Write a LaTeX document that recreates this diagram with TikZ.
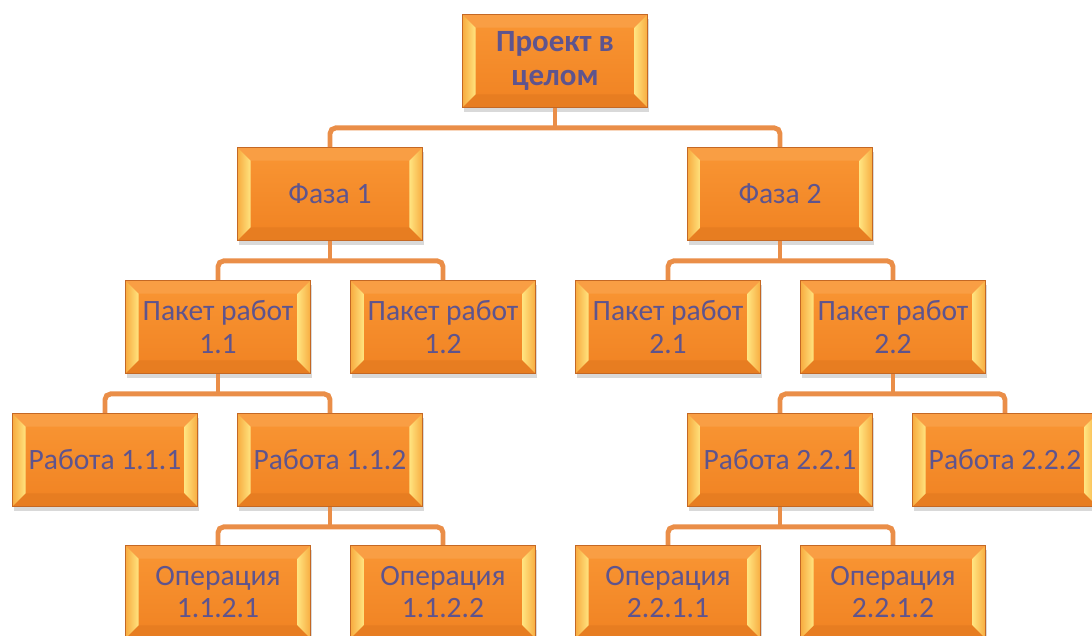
\documentclass[tikz,border=0pt]{standalone}
\usepackage{fontspec}
\setmainfont{Carlito}
\usetikzlibrary{calc,shadows}

\definecolor{boxfill}{RGB}{246,140,40}
\definecolor{boxtop}{RGB}{249,150,52}
\definecolor{boxbot}{RGB}{240,130,34}
\definecolor{boxedge}{RGB}{196,104,36}
\definecolor{bevlight}{RGB}{255,228,128}
\definecolor{bevmid}{RGB}{248,172,64}
\definecolor{linkcol}{RGB}{234,142,72}
\definecolor{txtcol}{RGB}{94,84,142}

\tikzset{
  wbs/.style={draw=boxedge, line width=0.6pt, top color=boxtop, bottom color=boxbot,
    minimum width=4.625cm, minimum height=2.325cm, inner sep=0pt,
    text=txtcol, align=center, font=\fontsize{21}{23}\selectfont,
    drop shadow={opacity=0.3, shadow xshift=1pt, shadow yshift=-3pt},
    path picture={
      \coordinate (bnw) at (path picture bounding box.north west);
      \coordinate (bne) at (path picture bounding box.north east);
      \coordinate (bsw) at (path picture bounding box.south west);
      \coordinate (bse) at (path picture bounding box.south east);
      % bevel edges
      \fill[boxtop!92!white] (bnw) -- ($(bnw)+(0.33cm,-0.33cm)$) -- ($(bne)+(-0.33cm,-0.33cm)$) -- (bne) -- cycle;
      \fill[boxbot!96!black] (bsw) -- ($(bsw)+(0.33cm,0.33cm)$) -- ($(bse)+(-0.33cm,0.33cm)$) -- (bse) -- cycle;
      \shade[left color=bevmid, right color=bevlight] (bnw) -- ($(bnw)+(0.33cm,-0.33cm)$) -- ($(bsw)+(0.33cm,0.33cm)$) -- (bsw) -- cycle;
      \shade[left color=bevlight, right color=bevmid] (bne) -- ($(bne)+(-0.33cm,-0.33cm)$) -- ($(bse)+(-0.33cm,0.33cm)$) -- (bse) -- cycle;
    }},
  link/.style={draw=linkcol, line width=3.5pt, rounded corners=4pt}
}

\begin{document}
\begin{tikzpicture}[x=0.025cm, y=-0.025cm]
    \useasboundingbox (0,0) rectangle (1092,636);

    \node[wbs, font=\fontsize{22}{24}\selectfont\bfseries] (top) at (555,61) {Проект в\\целом};

    \node[wbs] (f1) at (330,194) {Фаза 1};
    \node[wbs] (f2) at (780,194) {Фаза 2};

    \node[wbs] (p11) at (218,327) {Пакет работ\\1.1};
    \node[wbs] (p12) at (443,327) {Пакет работ\\1.2};
    \node[wbs] (p21) at (668,327) {Пакет работ\\2.1};
    \node[wbs] (p22) at (893,327) {Пакет работ\\2.2};

    \node[wbs] (r111) at (105,460) {Работа 1.1.1};
    \node[wbs] (r112) at (330,460) {Работа 1.1.2};
    \node[wbs] (r221) at (780,460) {Работа 2.2.1};
    \node[wbs] (r222) at (1005,460) {Работа 2.2.2};

    \node[wbs] (o1121) at (218,592) {Операция\\1.1.2.1};
    \node[wbs] (o1122) at (443,592) {Операция\\1.1.2.2};
    \node[wbs] (o2211) at (668,592) {Операция\\2.2.1.1};
    \node[wbs] (o2212) at (893,592) {Операция\\2.2.1.2};

    % project -> phases
    \draw[link] (top.south) -- ++(0,20);
    \draw[link] (f1.north) |- ($(top.south)+(0,20)$) -| (f2.north);

    % phases -> packages
    \draw[link] (f1.south) -- ++(0,20);
    \draw[link] (p11.north) |- ($(f1.south)+(0,20)$) -| (p12.north);
    \draw[link] (f2.south) -- ++(0,20);
    \draw[link] (p21.north) |- ($(f2.south)+(0,20)$) -| (p22.north);

    % packages -> works
    \draw[link] (p11.south) -- ++(0,20);
    \draw[link] (r111.north) |- ($(p11.south)+(0,20)$) -| (r112.north);
    \draw[link] (p22.south) -- ++(0,20);
    \draw[link] (r221.north) |- ($(p22.south)+(0,20)$) -| (r222.north);

    % works -> operations
    \draw[link] (r112.south) -- ++(0,20);
    \draw[link] (o1121.north) |- ($(r112.south)+(0,20)$) -| (o1122.north);
    \draw[link] (r221.south) -- ++(0,20);
    \draw[link] (o2211.north) |- ($(r221.south)+(0,20)$) -| (o2212.north);
\end{tikzpicture}
\end{document}
